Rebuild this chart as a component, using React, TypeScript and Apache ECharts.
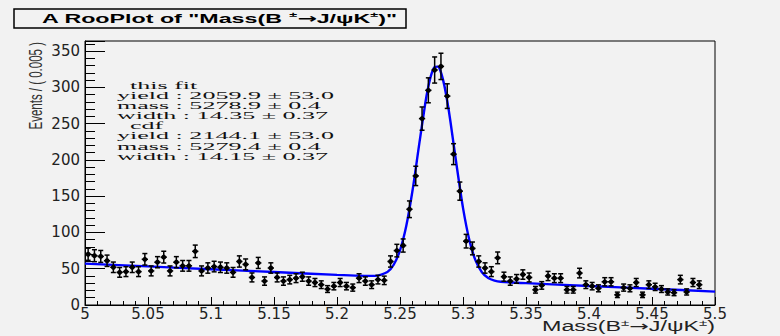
import React, { useEffect, useRef } from "react";
import * as echarts from "echarts";

// ---- data ----
const binLow = 5.0;
const binWidth = 0.005;
const counts: (number | null)[] = [
  70, 68, 67, 61, 52, 45, 46, 52, 46, 63,
  47, 59, 66, 47, 59, 54, 54, 74, 47, 51,
  53, 52, 51, 45, 60, 56, 38, 58, 33, 51,
  38, 33, 35, 37, 39, 33, 31, 28, 22, 26,
  31, 26, 24, 37, 33, 28, 35, 34, 60, 75,
  82, 132, 178, 257, 296, 324, 329, 288, 208, 157,
  88, 78, 60, 51, 46, 65, 39, 33, 36, 42,
  38, 21, 27, 40, 37, 37, 21, 21, 44, 28,
  26, 23, 32, 32, 14, 24, 23, 31, 14, 28,
  25, 22, 18, 17, 35, 18, 31, 28, null, null,
];
const curveX = [
  5.0, 5.05, 5.1, 5.15, 5.2, 5.23, 5.24, 5.245, 5.25, 5.255, 5.26, 5.265, 5.27,
  5.2725, 5.275, 5.2775, 5.28, 5.2825, 5.285, 5.2875, 5.29, 5.295, 5.3, 5.305,
  5.31, 5.315, 5.32, 5.325, 5.33, 5.35, 5.4, 5.45, 5.5,
];
const curveY = [
  57, 53.2, 49.3, 45.5, 41.6, 40.1, 45.6, 55.5, 75.4, 109.3, 158.6, 218.7, 277.4,
  301.1, 318.6, 328, 328.7, 320.6, 304.2, 281.2, 253.4, 191.6, 133.9, 89.8,
  61.1, 45.1, 37.2, 33.7, 32.1, 30.1, 26.2, 22.4, 18.5,
];
const statsLines = [
  "  this fit",
  "yield : 2059.9 \u00b1 53.0",
  "mass : 5278.9 \u00b1 0.4",
  "width : 14.35 \u00b1 0.37",
  "  cdf",
  "yield : 2144.1 \u00b1 53.0",
  "mass : 5279.4 \u00b1 0.4",
  "width : 14.15 \u00b1 0.37",
];
const yTitle = "Events / ( 0.005 )";
const xMin = 5.0;
const xMax = 5.5;
const xStep = 0.05;
const yMax = 364;
const yStep = 50;

const BG = "#f2f2f2";

function measure(text: string, font: string): number {
  const c = document.createElement("canvas").getContext("2d");
  if (!c) return text.length * 6;
  c.font = font;
  return c.measureText(text).width;
}

export default function App() {
  const ref = useRef<HTMLDivElement>(null);
  useEffect(() => {
    document.body.style.margin = "0";
    const chart = echarts.init(ref.current!, undefined, { renderer: "svg" });

    const pts = counts
      .map((v, i) => (v == null ? null : [binLow + binWidth * (i + 0.5), v, Math.sqrt(v)]))
      .filter((p) => p !== null) as number[][];

    // title scaling
    const tFont = 'bold 13px "Liberation Sans"';
    const aFont = 'bold 13px "DejaVu Sans"';
    const sFont = 'bold 8px "Liberation Sans"';
    const tW =
      measure('A RooPlot of "Mass(B ', tFont) +
      measure("\u00b1", sFont) +
      measure("\u2192", aFont) +
      measure("J/\u03c8K", tFont) +
      measure("\u00b1", sFont) +
      measure(')"', tFont);
    const titleScale = 355 / tW;

    const xtFont = '14px "Liberation Sans"';
    const xaFont = '14px "DejaVu Sans"';
    const xsFont = '9px "Liberation Sans"';
    const xtW =
      measure("Mass(B", xtFont) +
      measure("\u00b1", xsFont) +
      measure("\u2192", xaFont) +
      measure("J/\u03c8K", xtFont) +
      measure("\u00b1", xsFont) +
      measure(")", xtFont);
    const xTitleScale = 173 / xtW;

    const stFont = '10.5px "Liberation Serif"';
    const statsScale = 217 / measure(statsLines[1], stFont);

    const graphics: any[] = [
      {
        type: "rect",
        shape: { x: 14, y: 9, width: 392, height: 19 },
        style: { fill: BG, stroke: "#000", lineWidth: 1.5 },
        z: 10,
      },
      {
        type: "text",
        x: 42,
        y: 18.5,
        scaleX: titleScale,
        z: 11,
        style: {
          text: '{m|A RooPlot of "Mass(B }{s|\u00b1}{a|\u2192}{m|J/\u03c8K}{s|\u00b1}{m|)"}',
          fill: "#000",
          verticalAlign: "middle",
          align: "left",
          rich: {
            m: { fontSize: 13, fontWeight: "bold", fontFamily: "Liberation Sans", lineHeight: 16, fill: "#000" },
            a: { fontSize: 13, fontWeight: "bold", fontFamily: "DejaVu Sans", lineHeight: 16, fill: "#000" },
            s: { fontSize: 8, fontWeight: "bold", fontFamily: "Liberation Sans", lineHeight: 16, verticalAlign: "top", fill: "#000" },
          },
        },
      },
      {
        type: "text",
        x: 715,
        y: 326.5,
        scaleX: xTitleScale,
        z: 11,
        style: {
          text: "{m|Mass(B}{s|\u00b1}{a|\u2192}{m|J/\u03c8K}{s|\u00b1}{m|)}",
          fill: "#222",
          verticalAlign: "middle",
          align: "right",
          rich: {
            m: { fontSize: 14, fontFamily: "Liberation Sans", lineHeight: 16, fill: "#222" },
            a: { fontSize: 14, fontFamily: "DejaVu Sans", lineHeight: 16, fill: "#222" },
            s: { fontSize: 9, fontFamily: "Liberation Sans", lineHeight: 16, verticalAlign: "top", fill: "#222" },
          },
        },
      },
      {
        type: "text",
        x: 35,
        y: 42,
        rotation: Math.PI / 2,
        scaleY: 1.55,
        z: 11,
        style: {
          text: yTitle,
          fill: "#333",
          font: '11.5px "Liberation Sans"',
          align: "right",
          verticalAlign: "middle",
        },
      },
      ...statsLines.map((line, i) => ({
        type: "text",
        x: 117,
        y: 85 + i * 10.15,
        scaleX: statsScale,
        z: 11,
        style: {
          text: line,
          fill: "#111",
          font: stFont,
          align: "left",
          verticalAlign: "middle",
        },
      })),
    ];

    chart.setOption({
      animation: false,
      backgroundColor: BG,
      grid: {
        left: 85,
        right: 65,
        top: 41,
        bottom: 31,
        show: true,
        borderColor: "#000",
        borderWidth: 1,
        backgroundColor: "transparent",
      },
      xAxis: {
        type: "value",
        min: xMin,
        max: xMax,
        interval: xStep,
        axisLine: { show: true, onZero: false, lineStyle: { color: "#000", width: 1 } },
        axisTick: { show: true, inside: true, length: 8, lineStyle: { color: "#000", width: 1 } },
        minorTick: { show: true, splitNumber: 5, length: 4, lineStyle: { color: "#000", width: 1 } },
        splitLine: { show: false },
        axisLabel: {
          show: true,
          margin: 1,
          color: "#222",
          fontSize: 15,
          fontFamily: "DejaVu Sans",
          formatter: (v: number) => String(+v.toFixed(2)),
        },
      },
      yAxis: {
        type: "value",
        min: 0,
        max: yMax,
        interval: yStep,
        axisLine: { show: true, lineStyle: { color: "#000", width: 1 } },
        axisTick: { show: true, inside: true, length: 20, lineStyle: { color: "#000", width: 1 } },
        minorTick: { show: true, splitNumber: 5, length: 10, lineStyle: { color: "#000", width: 1 } },
        splitLine: { show: false },
        axisLabel: {
          show: true,
          margin: 5,
          color: "#222",
          fontSize: 15,
          fontFamily: "DejaVu Sans",
          formatter: (v: number) => (Math.abs(v % yStep) < 1e-6 ? String(v) : ""),
        },
      },
      series: [
        {
          type: "line",
          data: curveX.map((x, i) => [x, curveY[i]]),
          showSymbol: false,
          smooth: 0.25,
          lineStyle: { color: "#0000ff", width: 2.4 },
          z: 2,
        },
        {
          type: "custom",
          data: pts,
          z: 3,
          renderItem: (params: any, api: any) => {
            const x = api.value(0);
            const y = api.value(1);
            const e = api.value(2);
            const c = api.coord([x, y]);
            const top = api.coord([x, y + e]);
            const bot = api.coord([x, Math.max(0, y - e)]);
            const l = api.coord([x - binWidth / 2, y]);
            const r = api.coord([x + binWidth / 2, y]);
            const cap = 2.5;
            const ls = { stroke: "#000", lineWidth: 1.5 };
            return {
              type: "group",
              children: [
                { type: "line", shape: { x1: c[0], y1: top[1], x2: c[0], y2: bot[1] }, style: ls },
                { type: "line", shape: { x1: c[0] - cap, y1: top[1], x2: c[0] + cap, y2: top[1] }, style: ls },
                { type: "line", shape: { x1: c[0] - cap, y1: bot[1], x2: c[0] + cap, y2: bot[1] }, style: ls },
                { type: "line", shape: { x1: l[0], y1: c[1], x2: r[0], y2: c[1] }, style: ls },
                { type: "circle", shape: { cx: c[0], cy: c[1], r: 2.5 }, style: { fill: "#000" } },
              ],
            };
          },
        },
      ],
      graphic: graphics,
    });
    return () => chart.dispose();
  }, []);
  return (
    <div
      ref={ref}
      style={{ position: "fixed", left: 0, top: 0, width: 780, height: 336, background: BG }}
    />
  );
}
